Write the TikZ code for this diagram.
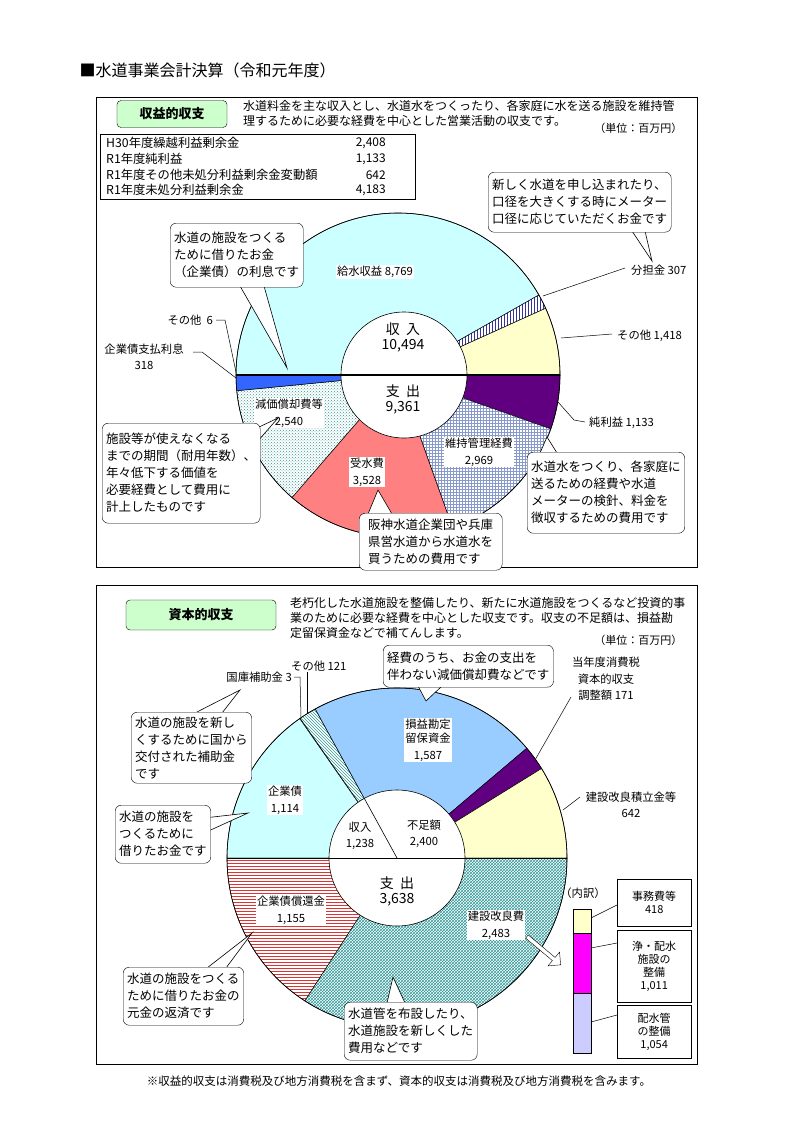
\documentclass[tikz,border=0pt]{standalone}
\usepackage{fontspec}
\setmainfont{Noto Sans CJK JP}
\usetikzlibrary{patterns,shapes.arrows}
\definecolor{lcyan}{HTML}{CCFFFF}
\definecolor{lyel}{HTML}{FFFFCC}
\definecolor{bblue}{HTML}{3366FF}
\definecolor{salmon}{HTML}{FF8080}
\definecolor{purp}{HTML}{600080}
\definecolor{lblue}{HTML}{99CCFF}
\definecolor{gbox}{HTML}{CCFFCC}
\definecolor{teal2}{HTML}{339999}
\definecolor{gridb}{HTML}{8899CC}
\definecolor{navy2}{HTML}{333399}
\definecolor{lav}{HTML}{CCCCFF}
\definecolor{redl}{HTML}{DD3333}
\definecolor{mag}{HTML}{FF00FF}
\newcommand\pslice[3]{\filldraw[line width=0.5pt,#3] (0,0) -- (#1:\R) arc[start angle=#1,end angle=#2,radius=\R] -- cycle;}
\begin{document}
\begin{tikzpicture}[x=1pt,y=-1pt,
  lab/.style={font=\fontsize{11.3}{14}\selectfont,align=center,inner sep=1pt},
  wlab/.style={lab,fill=white},
  call/.style={draw,fill=white,rounded corners=6pt,font=\fontsize{12.5}{17}\selectfont,align=left,inner sep=4pt,anchor=north west},
  ptr/.style={draw,fill=white,line width=0.6pt},
  lead/.style={line width=0.5pt},
  frame/.style={draw,line width=0.6pt},
  gtitle/.style={draw,fill=gbox,rounded corners=4pt,font=\fontsize{13}{15}\selectfont\bfseries,minimum width=110pt,minimum height=27pt},
  desc/.style={font=\fontsize{12}{15}\selectfont,align=left,anchor=north west,inner sep=0pt},
  tl/.style={anchor=west,font=\fontsize{12.3}{13}\selectfont,inner sep=0pt},
  tv/.style={anchor=east,font=\fontsize{12}{13}\selectfont,inner sep=0pt},
  bbox/.style={draw,font=\fontsize{11}{13}\selectfont,align=center,minimum width=74pt,anchor=north west}]
\useasboundingbox (0,0) rectangle (793,1122);
\fill[white] (0,0) rectangle (793,1122);
\node[anchor=west,font=\fontsize{16}{18}\selectfont] (title) at (76,70) {■水道事業会計決算（令和元年度）};
% ===== chart 1 =====
\draw[frame] (96,97) rectangle (697,567);
\node[gtitle] (t1) at (172,114) {収益的収支};
\node[desc] (d1) at (243,100) {水道料金を主な収入とし、水道水をつくったり、各家庭に水を送る施設を維持管\\理するために必要な経費を中心とした営業活動の収支です。};
\node[anchor=east,font=\fontsize{11}{13}\selectfont] (u1) at (686,128) {（単位：百万円）};
\draw[frame] (100,134) rectangle (415,199);
\node[tl] (r1) at (106,143) {H30年度繰越利益剰余金};
\node[tv] (v1) at (386,143) {2,408};
\node[tl] (r2) at (106,159) {R1年度純利益};
\node[tv] (v2) at (386,159) {1,133};
\node[tl] (r3) at (106,175) {R1年度その他未処分利益剰余金変動額};
\node[tv] (v3) at (386,175) {642};
\node[tl] (r4) at (106,190) {R1年度未処分利益剰余金};
\node[tv] (v4) at (386,190) {4,183};
\begin{scope}[shift={(398,375)},yscale=-1]
\def\R{162}
\pslice{180}{29.59}{fill=lcyan}
\pslice{29.59}{24.32}{preaction={fill=white},pattern=vertical lines,pattern color=navy2}
\pslice{24.32}{0}{fill=lyel}
\pslice{0}{-19.43}{fill=purp}
\pslice{-19.43}{-70.35}{preaction={fill=white},pattern=grid,pattern color=gridb}
\pslice{-70.35}{-130.87}{fill=salmon}
\pslice{-130.87}{-174.44}{preaction={fill=white},pattern=crosshatch dots,pattern color=teal2}
\pslice{-174.44}{-179.9}{fill=bblue}
\pslice{-179.9}{-180}{fill=white}
\draw[line width=0.6pt] (0,0) circle[radius=162];
\filldraw[fill=white,line width=0.6pt] (6,0) circle[radius=63];
\draw[line width=1.6pt] (-162,0) -- (162,0);
\end{scope}
\node[wlab] (k1) at (375,272) {給水収益 8,769};
\node[lab,font=\fontsize{14}{16}\selectfont] (in1) at (403,337) {収\ \ 入\\[-1pt]10,494};
\node[lab,font=\fontsize{14}{16}\selectfont] (out1) at (403,399) {支\ \ 出\\[-1pt]9,361};
\node[wlab] (g1) at (289,413) {減価償却費等\\[3pt]2,540};
\node[wlab] (j1) at (367,472) {受水費\\[3pt]3,528};
\node[wlab] (m1) at (479,452) {維持管理経費\\[3pt]2,969};
% leaders chart1
\node[lab,anchor=west] (bt1) at (630,270) {分担金 307};
\draw[lead] (543,296) -- (625,268);
\node[lab,anchor=west] (so1) at (616,336) {その他 1,418};
\draw[lead] (561,338) -- (612,334);
\node[lab,anchor=west] (jr1) at (588,423) {純利益 1,133};
\draw[lead] (558,402) -- (574,420) -- (585,422);
\node[lab,anchor=east] (s6) at (214,320) {その他\ \ 6};
\draw[lead] (216,320) -- (225,320) -- (236,372);
\node[lab] (ki1) at (144,357) {企業債支払利息\\[2pt]318};
\draw[lead] (193,352) -- (202,352) -- (236,378);
% callouts chart1
\draw[ptr] (632,231) -- (652,261) -- (645,231);
\node[call,minimum width=176pt,minimum height=60pt] (cA) at (488,172) {新しく水道を申し込まれたり、\\口径を大きくする時にメーター\\口径に応じていただくお金です};
\draw[ptr] (240,286) -- (287,368) -- (264,286);
\node[call,minimum width=123pt,minimum height=64pt] (cB) at (170,223) {水道の施設をつくる\\ために借りたお金\\（企業債）の利息です};
\draw[ptr] (257,428) -- (278,418) -- (257,442);
\node[call,minimum width=156pt,minimum height=100pt] (cC) at (102,423) {施設等が使えなくなる\\までの期間（耐用年数）、\\年々低下する価値を\\必要経費として費用に\\計上したものです};
\draw[ptr] (368,514) -- (378,490) -- (392,514);
\node[call,minimum width=143pt,minimum height=57pt] (cD) at (359,513) {阪神水道企業団や兵庫\\県営水道から水道水を\\買うための費用です};
\draw[ptr] (540,453) -- (547,437) -- (557,453);
\node[call,minimum width=151pt,minimum height=81pt] (cE) at (527,452) {水道水をつくり、各家庭に\\送るための経費や水道\\メーターの検針、料金を\\徴収するための費用です};
% ===== chart 2 =====
\draw[frame] (96,585) rectangle (697,1064);
\node[gtitle,minimum width=150pt,minimum height=30pt] (t2) at (201,615) {資本的収支};
\node[desc] (d2) at (290,597) {老朽化した水道施設を整備したり、新たに水道施設をつくるなど投資的事\\業のために必要な経費を中心とした収支です。収支の不足額は、損益勘\\定留保資金などで補てんします。};
\node[anchor=east,font=\fontsize{11}{13}\selectfont] (u2) at (686,640) {（単位：百万円）};
\begin{scope}[shift={(397,858)},yscale=-1]
\def\R{170}
\pslice{180}{124.88}{fill=lcyan}
\pslice{124.88}{124.73}{fill=white}
\pslice{124.73}{118.74}{preaction={fill=white},pattern=north west lines,pattern color=teal2}
\pslice{118.74}{40.22}{fill=lblue}
\pslice{40.22}{31.76}{fill=purp}
\pslice{31.76}{0}{fill=lyel}
\pslice{0}{-122.85}{preaction={fill=white},pattern=crosshatch,pattern color=teal2}
\pslice{-122.85}{-180}{preaction={fill=white},pattern=horizontal lines,pattern color=redl}
\draw[line width=0.6pt] (0,0) circle[radius=170];
\filldraw[fill=white,line width=0.6pt] (0,0) circle[radius=68];
\draw[line width=0.6pt] (0,0) -- (118.74:68);
\draw[line width=1pt] (-170,0) -- (170,0);
\end{scope}
\node[wlab] (sr2) at (428,740) {損益勘定\\留保資金\\[3pt]1,587};
\node[wlab] (kb2) at (285,800) {企業債\\[3pt]1,114};
\node[lab] (in2) at (360,836) {収入\\[2pt]1,238};
\node[lab] (fs2) at (424,834) {不足額\\[2pt]2,400};
\node[lab,font=\fontsize{14}{16}\selectfont] (out2) at (397,891) {支\ \ 出\\[-1pt]3,638};
\node[wlab] (ks2) at (291,910) {企業債償還金\\[3pt]1,155};
\node[wlab] (kk2) at (496,925) {建設改良費\\[3pt]2,483};
% leaders chart2
\node[lab,anchor=east] (kh2) at (293,677) {国庫補助金 3};
\draw[lead] (294,677) -- (300,677) -- (301,717);
\node[lab,anchor=west] (so2) at (290,666) {その他 121};
\draw[lead] (307,672) -- (307,713);
\node[lab,font=\fontsize{11.3}{16.5}\selectfont] (zt2) at (606,679) {当年度消費税\\資本的収支\\調整額 171};
\draw[lead] (571,697) -- (535,760);
\node[lab] (kt2) at (631,805) {建設改良積立金等\\[2pt]642};
\draw[lead] (580,797) -- (563,810);
% callouts chart2
\draw[ptr] (418,686) -- (426,701) -- (442,686);
\node[call,minimum width=170pt,minimum height=42pt] (cF) at (383,645) {経費のうち、お金の支出を\\伴わない減価償却費などです};
\draw[ptr] (195,713) -- (240,690) -- (222,713);
\node[call,minimum width=115pt,minimum height=71pt] (cG) at (131,712) {水道の施設を新し\\くするために国から\\交付された補助金\\です};
\draw[ptr] (204,818) -- (248,813) -- (204,833);
\node[call,minimum width=90pt,minimum height=58pt] (cH) at (115,805) {水道の施設を\\つくるために\\借りたお金です};
\draw[ptr] (207,968) -- (252,933) -- (226,968);
\node[call,minimum width=117pt,minimum height=58pt] (cI) at (123,967) {水道の施設をつくる\\ために借りたお金の\\元金の返済です};
\draw[ptr] (387,1003) -- (393,977) -- (405,1003);
\node[call,minimum width=125pt,minimum height=58pt] (cJ) at (344,1002) {水道管を布設したり、\\水道施設を新しくした\\費用などです};
% block arrow
\node[single arrow,draw,fill=white,minimum height=44pt,minimum width=18pt,single arrow head extend=4pt,inner sep=1pt,rotate=-40] (ba) at (543,950) {};
% breakdown
\node[lab] (uc) at (583,893) {（内訳）};
\filldraw[fill=lyel,line width=0.5pt] (573,909) rectangle (591,933);
\filldraw[fill=mag,line width=0.5pt] (573,933) rectangle (591,993);
\filldraw[fill=lav,line width=0.5pt] (573,993) rectangle (591,1053);
\node[bbox,minimum height=47pt] (b1) at (617,879) {事務費等\\418};
\node[bbox,minimum height=72pt] (b2) at (617,930) {浄・配水\\施設の\\整備\\1,011};
\node[bbox,minimum height=53pt] (b3) at (617,1005) {配水管\\の整備\\1,054};
\coordinate (q1) at (591,918); \coordinate (q2) at (591,948); \coordinate (q3) at (591,1022);
\draw[lead] (q1) -- (b1.west |- 0,905);
\draw[lead] (q2) -- (b2.west |- 0,943);
\draw[lead] (q3) -- (b3.west |- 0,1015);
\node[font=\fontsize{11.5}{13}\selectfont] (note) at (399,1081) {※収益的収支は消費税及び地方消費税を含まず、資本的収支は消費税及び地方消費税を含みます。};
\end{tikzpicture}
\end{document}
